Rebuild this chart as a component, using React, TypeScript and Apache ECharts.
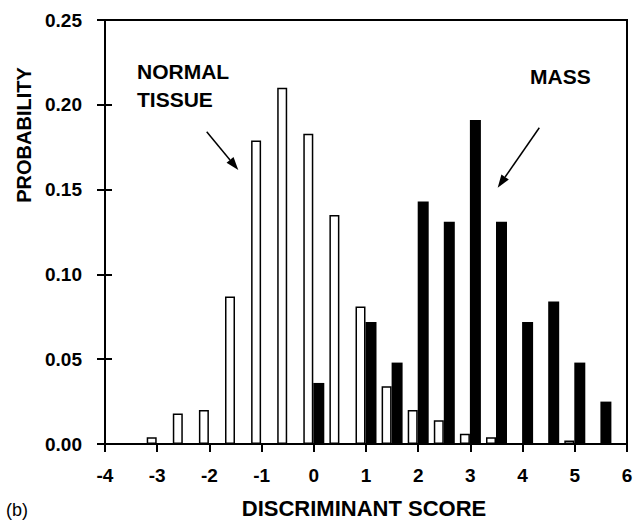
import React, { useEffect, useRef } from "react";
import * as echarts from "echarts";

const bins = [-3, -2.5, -2, -1.5, -1, -0.5, 0, 0.5, 1, 1.5, 2, 2.5, 3, 3.5, 4, 4.5, 5, 5.5];
const normalTissue = [0.004, 0.018, 0.02, 0.087, 0.179, 0.21, 0.183, 0.135, 0.081, 0.034, 0.02, 0.014, 0.006, 0.004, 0, 0, 0.002, 0];
const massValues = [0, 0, 0, 0, 0, 0, 0.036, 0, 0.072, 0.048, 0.143, 0.131, 0.191, 0.131, 0.072, 0.084, 0.048, 0.025];
const xTicks = [-4, -3, -2, -1, 0, 1, 2, 3, 4, 5, 6];
const yTicks = [0, 0.05, 0.1, 0.15, 0.2, 0.25];

const FONT = '"Liberation Sans", Arial, Helvetica, sans-serif';

function arrow(x1: number, y1: number, x2: number, y2: number) {
  const dx = x2 - x1;
  const dy = y2 - y1;
  const len = Math.sqrt(dx * dx + dy * dy);
  const ux = dx / len;
  const uy = dy / len;
  const hl = 13;
  const hw = 4.5;
  const bx = x2 - ux * hl;
  const by = y2 - uy * hl;
  return [
    { type: "line", shape: { x1, y1, x2: bx, y2: by }, style: { stroke: "#000", lineWidth: 1.5 } },
    {
      type: "polygon",
      shape: { points: [[x2, y2], [bx - uy * hw, by + ux * hw], [bx + uy * hw, by - ux * hw]] },
      style: { fill: "#000" },
    },
  ];
}

export default function App() {
  const ref = useRef<HTMLDivElement>(null);
  useEffect(() => {
    if (!ref.current) return;
    const chart = echarts.init(ref.current, null, { renderer: "svg" });
    const labelStyle = { color: "#000", fontFamily: FONT, fontWeight: "bold", fontSize: 19 };
    chart.setOption({
      animation: false,
      backgroundColor: "#fff",
      grid: {
        left: 105,
        right: 9,
        top: 20,
        bottom: 78,
        show: true,
        borderColor: "#000",
        borderWidth: 2,
        outerBoundsMode: "none",
      },
      xAxis: {
        type: "value",
        min: xTicks[0],
        max: xTicks[xTicks.length - 1],
        interval: 1,
        axisLine: { show: true, onZero: false, lineStyle: { color: "#000", width: 2 } },
        axisTick: { show: true, length: 8, lineStyle: { color: "#000", width: 2 } },
        axisLabel: { ...labelStyle, margin: 22, formatter: (v: number) => String(v) },
        splitLine: { show: false },
      },
      yAxis: [
        {
          type: "value",
          min: yTicks[0],
          max: yTicks[yTicks.length - 1],
          interval: 0.05,
          axisLine: { show: true, onZero: false, lineStyle: { color: "#000", width: 2 } },
          axisTick: { show: true, length: 8, lineStyle: { color: "#000", width: 2 } },
          axisLabel: { ...labelStyle, margin: 23, formatter: (v: number) => v.toFixed(2) },
          splitLine: { show: false },
        },
        {
          type: "value",
          position: "left",
          min: yTicks[0],
          max: yTicks[yTicks.length - 1],
          interval: 0.05,
          axisLine: { show: false, onZero: false },
          axisTick: { show: true, inside: true, length: 7, lineStyle: { color: "#000", width: 2 } },
          axisLabel: { show: false },
          splitLine: { show: false },
        },
      ],
      series: [
        {
          name: "NORMAL TISSUE",
          type: "bar",
          yAxisIndex: 0,
          barWidth: 10,
          barGap: "0%",
          data: bins.map((b, i) => [b, normalTissue[i]]),
          itemStyle: { color: "#fff", borderColor: "#000", borderWidth: 1.5 },
        },
        {
          name: "MASS",
          type: "bar",
          yAxisIndex: 0,
          barWidth: 11,
          barGap: "0%",
          data: bins.map((b, i) => [b, massValues[i]]),
          itemStyle: { color: "#000" },
        },
      ],
      graphic: [
        {
          type: "text",
          x: 137,
          y: 61,
          style: { text: "NORMAL", fill: "#000", font: `bold 21px ${FONT}`, textVerticalAlign: "top" },
        },
        {
          type: "text",
          x: 137,
          y: 89,
          style: { text: "TISSUE", fill: "#000", font: `bold 21px ${FONT}`, textVerticalAlign: "top" },
        },
        {
          type: "text",
          x: 530,
          y: 66,
          style: { text: "MASS", fill: "#000", font: `bold 21px ${FONT}`, textVerticalAlign: "top" },
        },
        {
          type: "text",
          x: 364,
          y: 497,
          style: {
            text: "DISCRIMINANT SCORE",
            fill: "#000",
            font: `bold 22px ${FONT}`,
            textAlign: "center",
            textVerticalAlign: "top",
          },
        },
        {
          type: "text",
          x: 6,
          y: 501,
          style: { text: "(b)", fill: "#000", font: `18px ${FONT}`, textVerticalAlign: "top" },
        },
        {
          type: "text",
          x: 24,
          y: 135,
          rotation: Math.PI / 2,
          style: {
            text: "PROBABILITY",
            fill: "#000",
            font: `bold 20px ${FONT}`,
            textAlign: "center",
            textVerticalAlign: "middle",
          },
        },
        ...arrow(206.7, 131.7, 238.3, 170),
        ...arrow(539.3, 127.7, 497.7, 187.7),
      ],
    });
    return () => chart.dispose();
  }, []);
  return (
    <div
      ref={ref}
      style={{ position: "absolute", left: 0, top: 0, width: 636, height: 522 }}
    />
  );
}
